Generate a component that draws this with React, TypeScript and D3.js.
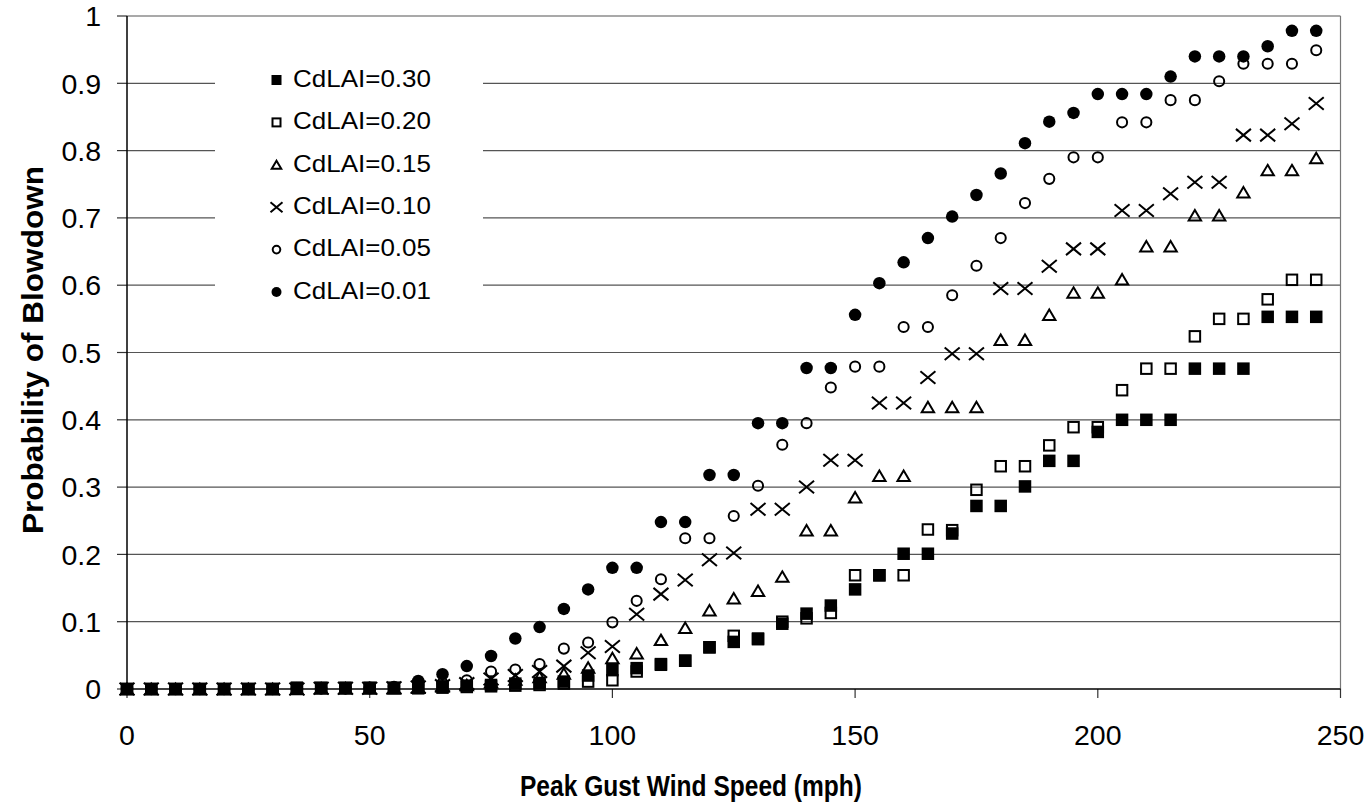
import React from "react";
import * as d3 from "d3";

const speeds = [0, 5, 10, 15, 20, 25, 30, 35, 40, 45, 50, 55, 60, 65, 70, 75, 80, 85, 90, 95, 100, 105, 110, 115, 120, 125, 130, 135, 140, 145, 150, 155, 160, 165, 170, 175, 180, 185, 190, 195, 200, 205, 210, 215, 220, 225, 230, 235, 240, 245];

const cd030 = [0, 0, 0, 0, 0, 0, 0, 0.002, 0.002, 0.002, 0.002, 0.002, 0.004, 0.004, 0.005, 0.006, 0.008, 0.009, 0.011, 0.02, 0.028, 0.031, 0.037, 0.042, 0.062, 0.07, 0.074, 0.097, 0.112, 0.124, 0.148, 0.169, 0.201, 0.201, 0.231, 0.272, 0.272, 0.301, 0.339, 0.339, 0.382, 0.4, 0.4, 0.4, 0.476, 0.476, 0.476, 0.553, 0.553, 0.553];
const cd020 = [0, 0, 0, 0, 0, 0, 0, 0.001, 0.001, 0.001, 0.001, 0.001, 0.001, 0.002, 0.003, 0.004, 0.005, 0.006, 0.008, 0.011, 0.013, 0.026, 0.036, 0.042, 0.062, 0.079, 0.075, 0.1, 0.105, 0.113, 0.169, 0.169, 0.169, 0.237, 0.236, 0.296, 0.331, 0.331, 0.362, 0.389, 0.389, 0.444, 0.476, 0.476, 0.524, 0.55, 0.55, 0.579, 0.608, 0.608];
const cd015 = [0, 0, 0, 0, 0, 0, 0, 0, 0.001, 0.001, 0.001, 0.001, 0.002, 0.004, 0.006, 0.01, 0.014, 0.018, 0.023, 0.032, 0.046, 0.053, 0.073, 0.091, 0.117, 0.135, 0.146, 0.167, 0.236, 0.236, 0.285, 0.317, 0.317, 0.419, 0.419, 0.419, 0.519, 0.519, 0.556, 0.589, 0.589, 0.609, 0.658, 0.658, 0.704, 0.704, 0.738, 0.771, 0.771, 0.789];
const cd010 = [0, 0, 0, 0, 0, 0, 0, 0, 0.001, 0.001, 0.001, 0.002, 0.003, 0.005, 0.008, 0.015, 0.02, 0.026, 0.034, 0.054, 0.063, 0.111, 0.141, 0.162, 0.192, 0.202, 0.267, 0.267, 0.3, 0.34, 0.34, 0.425, 0.425, 0.463, 0.498, 0.498, 0.595, 0.595, 0.628, 0.654, 0.654, 0.711, 0.711, 0.736, 0.753, 0.753, 0.823, 0.823, 0.84, 0.87];
const cd005 = [0, 0, 0, 0, 0, 0, 0, 0.001, 0.001, 0.001, 0.002, 0.002, 0.006, 0.009, 0.013, 0.026, 0.029, 0.037, 0.06, 0.069, 0.099, 0.131, 0.163, 0.224, 0.224, 0.257, 0.302, 0.363, 0.395, 0.448, 0.479, 0.479, 0.538, 0.538, 0.585, 0.629, 0.67, 0.722, 0.758, 0.79, 0.79, 0.842, 0.842, 0.875, 0.875, 0.903, 0.929, 0.929, 0.929, 0.949];
const cd001 = [0, 0, 0, 0, 0, 0, 0, 0.001, 0.001, 0.001, 0.001, 0.003, 0.012, 0.022, 0.034, 0.049, 0.075, 0.092, 0.119, 0.148, 0.18, 0.18, 0.248, 0.248, 0.318, 0.318, 0.395, 0.395, 0.477, 0.477, 0.556, 0.603, 0.634, 0.67, 0.702, 0.734, 0.766, 0.811, 0.843, 0.856, 0.884, 0.884, 0.884, 0.91, 0.94, 0.94, 0.94, 0.955, 0.978, 0.978];

const seriesNames = ["CdLAI=0.30", "CdLAI=0.20", "CdLAI=0.15", "CdLAI=0.10", "CdLAI=0.05", "CdLAI=0.01"];
const seriesValues = [cd030, cd020, cd015, cd010, cd005, cd001];
const seriesMarkers = ["filledSquare", "openSquare", "triangle", "cross", "openCircle", "filledCircle"];

const xTicks = [0, 50, 100, 150, 200, 250];
const yTicks = [0, 0.1, 0.2, 0.3, 0.4, 0.5, 0.6, 0.7, 0.8, 0.9, 1];

const FONT = "'Liberation Sans', Arial, Helvetica, sans-serif";

function Marker({ type, cx, cy, s }: { type: string; cx: number; cy: number; s: number }) {
  const h = s / 2;
  switch (type) {
    case "filledSquare":
      return <rect x={cx - h} y={cy - h} width={s} height={s} fill="#000" />;
    case "openSquare":
      return <rect x={cx - h + 1} y={cy - h + 1} width={s - 2} height={s - 2} fill="none" stroke="#000" strokeWidth={2} />;
    case "triangle": {
      const w = s * 1.15;
      const hh = s * 1.0;
      const p = `M${cx},${cy - hh / 2 + 1} L${cx + w / 2 - 1},${cy + hh / 2 - 1} L${cx - w / 2 + 1},${cy + hh / 2 - 1} Z`;
      return <path d={p} fill="none" stroke="#000" strokeWidth={2} strokeLinejoin="miter" />;
    }
    case "cross": {
      const w = s * 0.6;
      const hh = s * 0.5;
      const p = `M${cx - w},${cy - hh} L${cx + w},${cy + hh} M${cx - w},${cy + hh} L${cx + w},${cy - hh}`;
      return <path d={p} fill="none" stroke="#000" strokeWidth={2} />;
    }
    case "openCircle":
      return <circle cx={cx} cy={cy} r={h - 1.2} fill="none" stroke="#000" strokeWidth={2} />;
    case "filledCircle":
    default:
      return <circle cx={cx} cy={cy} r={h} fill="#000" />;
  }
}

export default function App() {
  const W = 1370;
  const H = 802;
  const left = 127;
  const right = 1340.5;
  const top = 16;
  const bottom = 689;

  const x = d3.scaleLinear().domain([0, 250]).range([left, right]);
  const y = d3.scaleLinear().domain([0, 1]).range([bottom, top]);

  const drawOrder = [5, 4, 3, 2, 1, 0];

  return (
    <svg
      width={W}
      height={H}
      style={{ position: "absolute", left: 0, top: 0, display: "block", background: "#fff" }}
      fontFamily={FONT}
    >
      <rect x={0} y={0} width={W} height={H} fill="#fff" />
      {yTicks.filter((t) => t > 0).map((t) => (
        <line key={"g" + t} x1={left} x2={right} y1={y(t)} y2={y(t)} stroke="#555" strokeWidth={1.2} />
      ))}
      <line x1={right} x2={right} y1={top} y2={bottom} stroke="#777" strokeWidth={1.2} />
      {yTicks.map((t) => (
        <g key={"yt" + t}>
          <line x1={left - 10} x2={left} y1={y(t)} y2={y(t)} stroke="#333" strokeWidth={1.2} />
          <text x={101} y={y(t)} dy="0.36em" textAnchor="end" fontSize={28.5} fill="#000">
            {d3.format("")(t)}
          </text>
        </g>
      ))}
      {xTicks.map((t) => (
        <g key={"xt" + t}>
          <line x1={x(t)} x2={x(t)} y1={bottom} y2={bottom + 9} stroke="#333" strokeWidth={1.2} />
          <text x={x(t)} y={745} textAnchor="middle" fontSize={28.5} fill="#000">
            {t}
          </text>
        </g>
      ))}
      <line x1={left} x2={left} y1={top} y2={bottom} stroke="#000" strokeWidth={1.5} />
      <line x1={left} x2={right} y1={bottom} y2={bottom} stroke="#000" strokeWidth={1.5} />

      {drawOrder.map((si) => (
        <g key={"s" + si}>
          {seriesValues[si].map((v, i) => (
            <Marker key={i} type={seriesMarkers[si]} cx={x(speeds[i])} cy={y(v)} s={12.5} />
          ))}
        </g>
      ))}

      <rect x={215} y={50} width={268} height={262} fill="#fff" />
      {seriesNames.map((name, i) => {
        const ly = 78 + i * 42.4;
        return (
          <g key={"l" + i}>
            <Marker type={seriesMarkers[i]} cx={276.5} cy={ly + 2} s={10} />
            <text x={293} y={ly} dy="0.36em" fontSize={24.5} fill="#000" textLength={138} lengthAdjust="spacingAndGlyphs">
              {name}
            </text>
          </g>
        );
      })}

      <text x={691} y={796} textAnchor="middle" fontSize={29} fontWeight="bold" fill="#000" textLength={342} lengthAdjust="spacingAndGlyphs">
        Peak Gust Wind Speed (mph)
      </text>
      <text
        transform={`translate(43,350) rotate(-90)`}
        textAnchor="middle"
        fontSize={29}
        fontWeight="bold"
        fill="#000"
        textLength={368}
        lengthAdjust="spacingAndGlyphs"
      >
        Probability of Blowdown
      </text>
    </svg>
  );
}
